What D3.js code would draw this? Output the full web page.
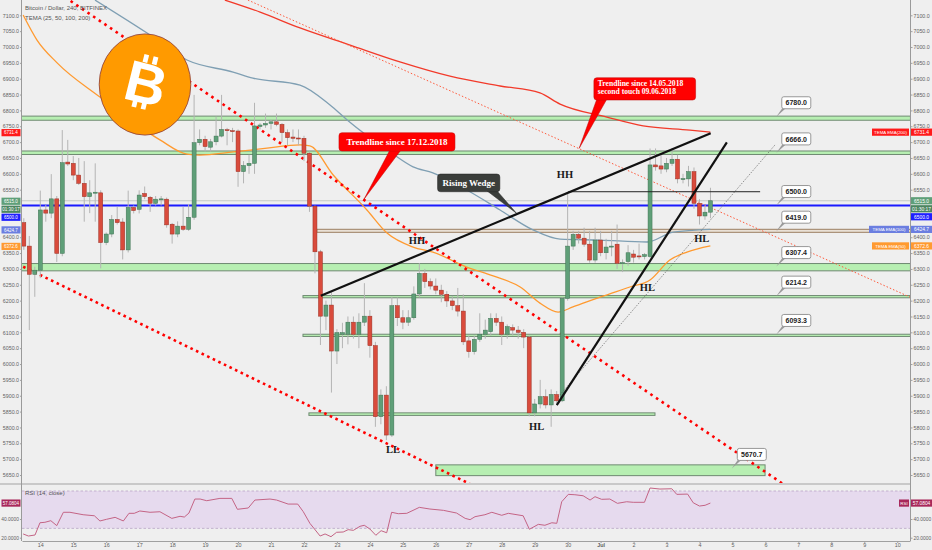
<!DOCTYPE html>
<html><head><meta charset="utf-8">
<script src="https://cdn.jsdelivr.net/npm/d3@7"></script>
<style>body{margin:0;background:#efefef;}svg{display:block;}</style>
</head><body>
<svg id="c" width="932" height="550"></svg>
<script>
// ---------------- DATA ----------------
// 4h candles, first candle = 13 Jun 12:00 (day offset -0.5 from 14 Jun)
const candleOpen  = [6446,6372,6283,6296,6486,6476,6521,6349,6637,6633,6596,6570,6528,6540,6540,6383,6410,6456,6448,6360,6494,6488,6538,6526,6507,6520,6520,6441,6410,6435,6425,6463,6698,6709,6684,6701,6719,6739,6736,6735,6607,6626,6633,6749,6754,6759,6764,6756,6730,6716,6713,6712,6665,6498,6354,6151,6186,6041,6094,6094,6132,6094,6132,6151,6058,5834,5902,5776,6184,6146,6132,6146,6221,6286,6260,6246,6233,6220,6199,6184,6167,6073,6039,6078,6094,6102,6144,6132,6094,6115,6107,6100,6085,5846,5874,5897,5871,5904,5884,6207,6372,6409,6397,6378,6328,6391,6351,6370,6378,6318,6323,6347,6341,6339,6339,6628,6625,6615,6633,6646,6584,6584,6607,6507,6467,6479];
const candleClose = [6372,6283,6296,6486,6476,6521,6349,6635,6631,6596,6570,6528,6540,6542,6383,6410,6456,6446,6360,6494,6484,6533,6528,6507,6520,6521,6439,6410,6435,6425,6463,6698,6709,6686,6701,6719,6740,6738,6735,6607,6626,6633,6751,6754,6759,6764,6756,6730,6714,6712,6712,6665,6498,6354,6151,6186,6041,6099,6099,6132,6094,6132,6151,6058,5834,5902,5776,6184,6146,6132,6146,6221,6286,6260,6246,6233,6220,6199,6184,6167,6070,6039,6078,6094,6107,6144,6132,6094,6118,6107,6100,6085,5846,5874,5897,5871,5904,5884,6207,6372,6409,6397,6378,6328,6391,6351,6369,6372,6318,6320,6351,6337,6340,6345,6628,6622,6615,6633,6646,6584,6585,6607,6507,6467,6479,6515];
const candleHigh  = [6460,6404,6307,6547,6502,6599,6530,6738,6707,6656,6650,6640,6580,6633,6548,6415,6470,6496,6460,6547,6500,6548,6560,6530,6530,6530,6525,6445,6450,6496,6505,6849,6740,6720,6710,6780,6849,6745,6745,6740,6640,6660,6824,6760,6790,6770,6790,6760,6740,6740,6740,6720,6670,6500,6360,6200,6230,6110,6130,6150,6150,6160,6255,6170,6070,5920,5930,6212,6210,6170,6170,6245,6318,6300,6270,6270,6250,6230,6215,6240,6220,6090,6090,6160,6140,6160,6160,6150,6125,6125,6120,6110,6090,5890,5950,5920,5920,5915,6210,6538,6420,6420,6430,6420,6430,6420,6395,6420,6440,6330,6375,6360,6380,6350,6680,6680,6660,6650,6680,6660,6600,6625,6620,6520,6500,6556];
const candleLow   = [6360,6107,6212,6271,6449,6460,6322,6340,6625,6580,6565,6449,6476,6449,6302,6375,6400,6440,6330,6352,6475,6475,6520,6480,6500,6500,6430,6380,6400,6420,6420,6455,6690,6670,6670,6690,6715,6690,6700,6559,6570,6600,6600,6740,6745,6740,6750,6700,6690,6700,6690,6640,6480,6286,6060,6107,5910,6000,6050,6062,6080,6050,6120,6020,5802,5810,5760,5770,6120,6110,6120,6140,6210,6240,6235,6220,6195,6180,6170,6150,6060,6020,6030,6070,6080,6090,6120,6060,6080,6090,6080,6050,5835,5835,5860,5860,5802,5875,5880,6200,6360,6380,6370,6320,6320,6340,6330,6340,6300,6290,6310,6320,6330,6330,6335,6610,6600,6605,6625,6570,6570,6560,6490,6440,6455,6460];
const firstCandleDay = -0.5, candleStepDay = 1/6;

// moving averages (day offset from 14 Jun, value)
const ema200Day = [5.60,6.67,7.88,9.40,10.91,12.43,13.95,15.16,15.77,17.19,18.29,19.71,20.33];
const ema200Val = [7148,7110,7060,7006,6953,6908,6877,6855,6820,6779,6751,6738,6731.4];
const ema100Day = [1.66,3.24,4.45,5.85,6.45,7.88,8.79,9.31,10.61,11.31,11.91,12.94,13.95,14.95,15.77,16.98,18.41,19.20,20.33];
const ema100Val = [7148,7044,6959,6921,6902,6880,6817,6770,6669,6622,6603,6549,6486,6423,6394,6391,6385,6416,6424.7];
const ema50Day = [-0.52,-0.10,0.51,1.81,3.02,3.63,4.45,4.84,5.85,6.88,7.88,8.18,8.88,9.91,10.52,11.31,11.91,12.94,13.74,14.56,15.16,15.71,16.16,16.98,17.89,18.50,19.10,19.62,20.33];
const ema50Val = [7101,7022,6950,6842,6748,6707,6662,6659,6669,6681,6691,6688,6597,6486,6413,6369,6353,6306,6278,6243,6192,6164,6180,6211,6243,6265,6328,6353,6372.6];

// RSI(14)
const rsiDay = [-0.52,-0.36,-0.16,-0.01,0.14,0.32,0.50,0.70,0.90,1.30,1.64,1.81,2.01,2.27,2.52,2.69,2.85,3.02,3.33,3.63,3.99,4.24,4.37,4.51,4.69,4.85,5.05,5.45,5.81,5.98,6.31,6.51,6.97,7.17,7.52,7.81,7.98,8.18,8.49,8.64,8.82,8.99,9.19,9.34,9.50,9.70,9.83,10.00,10.18,10.34,10.51,10.66,10.86,11.12,11.50,11.82,12.23,12.63,12.89,13.04,13.19,13.49,13.70,14.00,14.20,14.65,14.84,15.11,15.31,15.52,15.67,15.82,16.02,16.22,16.47,16.68,16.83,17.03,17.28,17.51,17.79,17.99,18.33,18.50,18.80,19.16,19.31,19.64,19.81,20.00,20.17,20.33];
const rsiVal = [24,21.8,22.9,36,36.5,38.2,32.9,47.2,47.2,44.6,43.5,37.9,39.7,41.8,37.9,46.1,46.1,48.6,47.2,47.8,40.7,42.9,42.1,46.4,61.4,61.4,59.6,62.1,62.1,50.4,51.8,60.3,61.4,60.3,56,56,47.8,35.4,21.8,24,21.1,25.8,26.1,28.6,27.9,32.2,33.3,29.3,22.6,27.5,25.3,47.2,45.7,46.1,52.5,50.7,49.3,46.4,40.7,39.3,42.5,44.6,47.2,44,46.1,43.5,29,34.3,33.3,36,35.4,58.5,66.4,66,64.9,60.3,63.9,61.1,61.4,56.8,58.5,57.9,57.9,73.2,72.1,72.4,66.4,66.7,57.4,53.9,54.7,57.0804];

// horizontal zones: [low price, high price, from day, to day]
const zoneLow  = [6769,6661,6294,6209,6087,5838,5648];
const zoneHigh = [6782,6672,6317,6216,6094,5846,5682];
const zoneFrom = [-0.6,-0.6,-0.6,7.97,7.97,8.15,12.0];
const zoneTo   = [26.4,26.4,26.4,26.4,26.4,18.65,21.99];
const resistLow = 6415.5, resistHigh = 6425, resistFrom = 8.39;

// level labels
const levelValues = [6780.0,6666.0,6500.0,6419.0,6307.4,6214.2,6093.3,5670.7];
const levelDays   = [22.33,22.33,22.33,22.33,22.33,22.33,22.33,20.98];

// trendlines [day1, price1, day2, price2]
const redTrend1 = [0.92,7145,22.59,5618];
const redTrend2 = [-0.52,6307,13.03,5622];
const thinTrend = [6.30,7148,26.39,6211];
const wedgeUpper = [8.51,6215.5,20.34,6727.8];
const wedgeLower = [15.67,5870.7,20.83,6699.4];
const hhLevel = [16.02,6543.5,21.84,6543.5];
const dottedSupport = [15.72,5897,22.29,6691];
const bluePrice = 6500, lastPrice = 6515.0;

// swing labels
const swingText = ["HH","HH","HL","HL","HL","LL"];
const swingDay  = [15.92,11.43,18.42,20.07,15.06,10.70];
const swingPrice= [6597,6389,6241,6395,5803,5729];

// callouts
const calloutText = [["Trendline since 17.12.2018"],["Rising Wedge"],["Trendline since 14.05.2018","second touch 09.06.2018"]];
const calloutDay = [9.82,14.45,16.35];
const calloutPrice = [6519.6,6475.4,6680.4];

const priceTicks = [7100,7050,7000,6950,6900,6850,6800,6750,6700,6650,6600,6550,6500,6450,6400,6350,6300,6250,6200,6150,6100,6050,6000,5950,5900,5850,5800,5750,5700,5650];
const rsiTicks = [20,40];
const dayTickPos = [0,1,2,3,4,5,6,7,8,9,10,11,12,13,14,15,16,17,18,19,20,21,22,23,24,25,26];
const dayTickLabels = ["14","15","16","17","18","19","20","21","22","23","24","25","26","27","28","29","30","Jul","2","3","4","5","6","7","8","9","10"];

// ---------------- CHART ----------------
const W=932,H=550, L=22, R=910, MB=483, RT=486, RB=541;
const svg = d3.select('#c');
const x = d3.scaleLinear().domain([-0.555,26.387]).range([L,R]);
const y = d3.scaleLinear().domain([5650,7100]).range([475,15.3]);
const yr = d3.scaleLinear().domain([20,70]).range([537.7,491]);
const SANS = "'Liberation Sans', Arial, sans-serif";
const SERIF = "'Liberation Serif', 'Times New Roman', serif";

svg.append('rect').attr('width',W).attr('height',H).attr('fill','#efefef');
const defs = svg.append('defs');
defs.append('clipPath').attr('id','cm').append('rect').attr('x',L).attr('y',0).attr('width',R-L).attr('height',MB);
defs.append('clipPath').attr('id','cr').append('rect').attr('x',L).attr('y',RT).attr('width',R-L).attr('height',RB-RT);

const main = svg.append('g').attr('clip-path','url(#cm)');

// zones
zoneLow.forEach((lo,i)=>{
  main.append('rect').attr('x',x(zoneFrom[i])).attr('width',x(zoneTo[i])-x(zoneFrom[i]))
    .attr('y',y(zoneHigh[i])).attr('height',y(zoneLow[i])-y(zoneHigh[i]))
    .attr('fill','#b7efb2').attr('stroke','#6f8a72').attr('stroke-width',1);
});
main.append('rect').attr('x',x(resistFrom)).attr('width',x(26.4)-x(resistFrom))
  .attr('y',y(resistHigh)).attr('height',y(resistLow)-y(resistHigh))
  .attr('fill','#e9e0d6').attr('stroke','#9c7f62').attr('stroke-width',1);

// last price line & blue line
main.append('line').attr('x1',L).attr('x2',R).attr('y1',y(lastPrice)).attr('y2',y(lastPrice)).attr('stroke','#c4c8c4').attr('stroke-width',1);
main.append('line').attr('x1',L).attr('x2',R).attr('y1',y(bluePrice)).attr('y2',y(bluePrice)).attr('stroke','#1a1aff').attr('stroke-width',2);

// moving averages
const maLine = d3.line().x(d=>x(d[0])).y(d=>y(d[1])).curve(d3.curveMonotoneX);
main.append('path').attr('d',maLine(ema200Day.map((d,i)=>[d,ema200Val[i]]))).attr('fill','none').attr('stroke','#f23a2a').attr('stroke-width',1.3);
main.append('path').attr('d',maLine(ema100Day.map((d,i)=>[d,ema100Val[i]]))).attr('fill','none').attr('stroke','#7f9fb3').attr('stroke-width',1.3);
main.append('path').attr('d',maLine(ema50Day.map((d,i)=>[d,ema50Val[i]]))).attr('fill','none').attr('stroke','#ff9a30').attr('stroke-width',1.3);

// trendlines
function seg(g,a,stroke,w,dash){
  const l=g.append('line').attr('x1',x(a[0])).attr('y1',y(a[1])).attr('x2',x(a[2])).attr('y2',y(a[3]))
   .attr('stroke',stroke).attr('stroke-width',w);
  if(dash) l.attr('stroke-dasharray',dash);
  return l;
}
seg(main,thinTrend,'#ff5a3c',1,'1.5 2');
seg(main,redTrend1,'#ff0000',2.6,'2.6 4.2');
seg(main,redTrend2,'#ff0000',2.6,'2.6 3.6');

// candles
const cg = main.append('g');
candleOpen.forEach((o,i)=>{
  const c=candleClose[i], hi=candleHigh[i], lo=candleLow[i];
  const cx = x(firstCandleDay + i*candleStepDay);
  const up = c>=o;
  cg.append('line').attr('x1',cx).attr('x2',cx).attr('y1',y(hi)).attr('y2',y(lo)).attr('stroke','#b4b4b4').attr('stroke-width',1);
  const top=y(Math.max(o,c)), bot=y(Math.min(o,c));
  cg.append('rect').attr('x',cx-2).attr('width',4).attr('y',top).attr('height',Math.max(1,bot-top))
    .attr('fill',up?'#5f9f78':'#d94b3c').attr('stroke',up?'#3e7353':'#9a3024').attr('stroke-width',0.5);
});

// wedge & annotations lines
seg(main,dottedSupport,'#555',0.8,'1 1.4');
seg(main,hhLevel,'#222',1,null);
seg(main,wedgeUpper,'#111',2.2,null);
seg(main,wedgeLower,'#111',2.2,null);

// bitcoin logo
const logo = svg.append('g');
logo.append('ellipse').attr('cx',145).attr('cy',84.5).attr('rx',45.8).attr('ry',50.6).attr('fill','#ff9a00').attr('stroke','#8a3a3a').attr('stroke-width',0.8);
const bg = logo.append('g').attr('transform','translate(145,83) rotate(14)');
bg.append('text').attr('x',1).attr('y',20).attr('text-anchor','middle').attr('font-family',SANS).attr('font-weight','bold').attr('font-size',57).attr('fill','#fff').text('B');
[-7.5,2].forEach(dx=>{
  bg.append('rect').attr('x',dx).attr('y',-28).attr('width',4.8).attr('height',8).attr('fill','#fff');
  bg.append('rect').attr('x',dx).attr('y',18).attr('width',4.8).attr('height',8).attr('fill','#fff');
});

// swing labels
swingText.forEach((t,i)=>{
  svg.append('text').attr('x',x(swingDay[i])).attr('y',y(swingPrice[i])+3.5).attr('text-anchor','middle')
    .attr('font-family',SERIF).attr('font-weight','bold').attr('font-size',10.5).attr('fill','#1a1a1a').text(t);
});

// level labels
levelValues.forEach((v,i)=>{
  const g = svg.append('g').attr('transform',`translate(${x(levelDays[i])},${y(v)})`);
  g.append('path').attr('d','M0,0 L6,-8.5 L9.5,-8.5 Z').attr('fill','#9a9a9a');
  g.append('rect').attr('x',5.5).attr('y',-20).attr('width',29).attr('height',12).attr('rx',2)
    .attr('fill','#fff').attr('stroke','#8d8d8d').attr('stroke-width',0.9);
  g.append('text').attr('x',20).attr('y',-11.3).attr('text-anchor','middle').attr('font-family',SANS)
    .attr('font-weight','bold').attr('font-size',7).attr('fill','#222').text(v.toFixed(1));
});

// callouts
const calloutStyle = [
  {bx:-25,by:-66.6,bw:116,bh:18.3,t1:26,t2:37,fill:'#ff0000',stroke:'#c00000',fs:9},
  {bx:-79,by:-39.3,bw:62.3,bh:17.7,t1:-29.7,t2:-19.7,fill:'#3b3e3b',stroke:'#222',fs:9},
  {bx:14.7,by:-70.6,bw:101.7,bh:22.3,t1:17.7,t2:27.7,fill:'#ff0000',stroke:'#c00000',fs:7.6}
];
calloutText.forEach((lines,i)=>{
  const s=calloutStyle[i];
  const g = svg.append('g').attr('transform',`translate(${x(calloutDay[i])},${y(calloutPrice[i])})`);
  const baseY = s.by+s.bh;
  g.append('path').attr('d',`M0,0 L${s.t1},${baseY-1} L${s.t2},${baseY-1} Z`).attr('fill',s.fill).attr('stroke',s.stroke).attr('stroke-width',0.5);
  g.append('rect').attr('x',s.bx).attr('y',s.by).attr('width',s.bw).attr('height',s.bh).attr('rx',3)
    .attr('fill',s.fill).attr('stroke',s.stroke).attr('stroke-width',0.5);
  g.append('path').attr('d',`M${s.t1+0.5},${baseY-1.5} L${s.t2-0.5},${baseY-1.5}`).attr('stroke',s.fill).attr('stroke-width',2);
  if(lines.length===1){
    g.append('text').attr('x',s.bx+s.bw/2).attr('y',s.by+s.bh/2+3.2).attr('text-anchor','middle')
      .attr('font-family',SERIF).attr('font-weight','bold').attr('font-size',s.fs).attr('fill','#fff').text(lines[0]);
  } else {
    lines.forEach((ln,k)=>{
      g.append('text').attr('x',s.bx+4).attr('y',s.by+8.5+k*7.6)
        .attr('font-family',SERIF).attr('font-weight','bold').attr('font-size',s.fs).attr('fill','#fff').text(ln);
    });
  }
});

// ---------------- RSI panel ----------------
svg.append('line').attr('x1',0).attr('x2',R).attr('y1',MB+1).attr('y2',MB+1).attr('stroke','#c9c9c9').attr('stroke-width',2);
const rsi = svg.append('g').attr('clip-path','url(#cr)');
rsi.append('rect').attr('x',L).attr('width',R-L).attr('y',yr(70)).attr('height',yr(30)-yr(70)).attr('fill','#e6daee');
[70,30].forEach(v=>rsi.append('line').attr('x1',L).attr('x2',R).attr('y1',yr(v)).attr('y2',yr(v)).attr('stroke','#b9a3c5').attr('stroke-width',0.8).attr('stroke-dasharray','2.5 2'));
rsi.append('path').attr('d',d3.line().x(d=>x(d[0])).y(d=>yr(d[1]))(rsiDay.map((d,i)=>[d,rsiVal[i]])))
  .attr('fill','none').attr('stroke','#c46485').attr('stroke-width',1);

// ---------------- tags (positions) ----------------
const tagLabels = ['6731.4','6515.0','01:30:17','6500.0','6424.7','6372.6'];
const tagColors = ['#ff1a1a','#5f9f78','#4c8661','#1f1fff','#6b7ee0','#ff9a30'];
const tagY = [y(6731.4), y(6515.0), y(6515.0)+8, y(6515.0)+16, y(6424.7), y(6372.6)];
const visibleTicks = priceTicks.filter(p=>tagY.every(ty=>Math.abs(y(p)-ty)>=5));

// ---------------- axes ----------------
const axisCol = '#5f5f5f';
function styleAxis(g,fs){
  g.selectAll('path.domain').attr('stroke','#a0a0a0');
  g.selectAll('line').attr('stroke','#a0a0a0');
  g.selectAll('text').attr('fill',axisCol).attr('font-family',SANS).attr('font-size',fs);
}
const ra = svg.append('g').attr('transform',`translate(${R},0)`).call(d3.axisRight(y).tickValues(visibleTicks).tickFormat(d3.format('.1f')).tickSize(2.5).tickSizeOuter(0));
ra.select('path.domain').remove(); styleAxis(ra,5.3); ra.selectAll('text').attr('x',3.5);
const la = svg.append('g').attr('transform',`translate(${L},0)`).call(d3.axisLeft(y).tickValues(visibleTicks).tickFormat(d3.format('.1f')).tickSize(2).tickSizeOuter(0));
la.select('path.domain').remove(); styleAxis(la,5.3); la.selectAll('text').attr('x',-3);
const rra = svg.append('g').attr('transform',`translate(${R},0)`).call(d3.axisRight(yr).tickValues(rsiTicks).tickFormat(d3.format('.4f')).tickSize(2.5).tickSizeOuter(0));
rra.select('path.domain').remove(); styleAxis(rra,4.9); rra.selectAll('text').attr('x',3.5);
const lra = svg.append('g').attr('transform',`translate(${L},0)`).call(d3.axisLeft(yr).tickValues(rsiTicks).tickFormat(d3.format('.4f')).tickSize(2).tickSizeOuter(0));
lra.select('path.domain').remove(); styleAxis(lra,4.9); lra.selectAll('text').attr('x',-3);
svg.append('line').attr('x1',R+0.5).attr('x2',R+0.5).attr('y1',0).attr('y2',RB).attr('stroke','#9a9a9a');
svg.append('line').attr('x1',L-0.5).attr('x2',L-0.5).attr('y1',0).attr('y2',RB).attr('stroke','#9a9a9a');
const ta = svg.append('g').attr('transform',`translate(0,${RB})`).call(d3.axisBottom(x).tickValues(dayTickPos).tickFormat((d,i)=>dayTickLabels[i]).tickSize(2).tickSizeOuter(0));
styleAxis(ta,5.4);
ta.selectAll('text').attr('y',2.5).attr('dy','0.71em').attr('font-weight',(d,i)=>dayTickLabels[i]==='Jul'?'bold':'normal');

// ---------------- price tags ----------------
function tag(x0,yc,w,txt,bgc,fs){
  svg.append('rect').attr('x',x0).attr('y',yc-3.6).attr('width',w).attr('height',7.2).attr('fill',bgc);
  svg.append('text').attr('x',x0+w/2).attr('y',yc+1.8).attr('text-anchor','middle').attr('font-family',SANS).attr('font-size',fs||4.9).attr('fill','#fff').text(txt);
}
tagLabels.forEach((t,i)=>{ tag(R+1,tagY[i],21,t,tagColors[i]); tag(1.5,tagY[i]+0.5,19,t,tagColors[i],4.5); });
tag(872,tagY[0],37,'TEMA EMA(200)','#ff1a1a',4.4);
tag(869,tagY[4],40,'TEMA EMA(100)','#6b7ee0',4.4);
tag(872,tagY[5],37,'TEMA EMA(50)','#ff9a30',4.4);
tag(R+1,yr(57.0804),21,'57.0804','#a8285a');
tag(899,yr(57.0804),10,'RSI','#a8285a',4.4);
tag(1.5,yr(57.0804),19,'57.0804','#a8285a',4.5);

// titles
svg.append('text').attr('x',25).attr('y',10).attr('font-family',SANS).attr('font-size',6).attr('fill','#555').text('Bitcoin / Dollar, 240, BITFINEX');
svg.append('text').attr('x',25).attr('y',19.5).attr('font-family',SANS).attr('font-size',6).attr('fill','#555').text('TEMA (25, 50, 100, 200)');
svg.append('text').attr('x',25).attr('y',495).attr('font-family',SANS).attr('font-size',6).attr('fill','#555').text('RSI (14, close)');
</script>
</body></html>
